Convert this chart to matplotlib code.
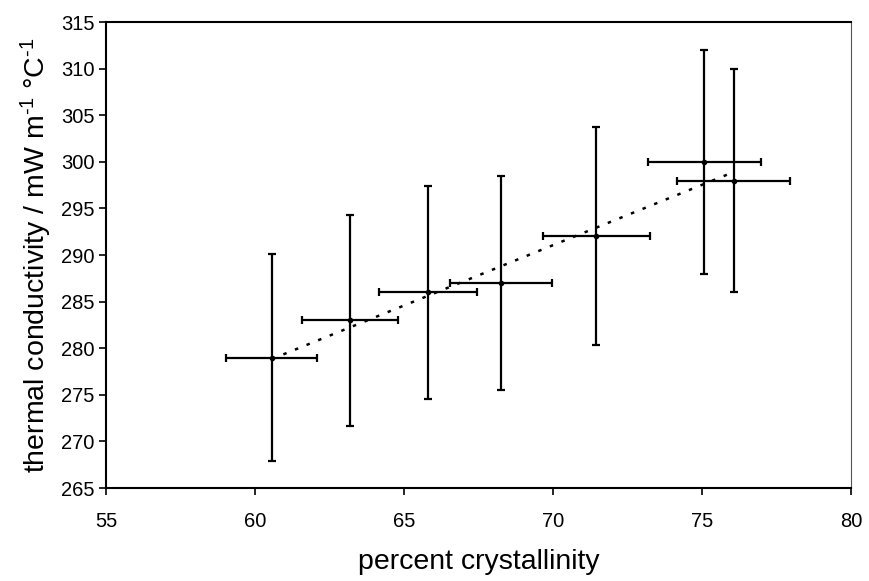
import numpy as np
import matplotlib
matplotlib.use("Agg")
import matplotlib.pyplot as plt

plt.rcParams['font.family'] = ['Liberation Sans', 'DejaVu Sans']
plt.rcParams['mathtext.fontset'] = 'custom'
plt.rcParams['mathtext.rm'] = 'Liberation Sans'
plt.rcParams['mathtext.default'] = 'regular'

# данные
crystallinity = np.array([60.56, 63.19, 65.8, 68.25, 71.46, 75.08, 76.07])
conductivity = np.array([279.0, 283.0, 286.0, 287.0, 292.0, 300.0, 298.0])
x_err = np.array([1.53, 1.6, 1.65, 1.72, 1.79, 1.9, 1.9])
y_err = np.array([11.1, 11.3, 11.4, 11.5, 11.7, 12.0, 12.0])

x_ticks = [55, 60, 65, 70, 75, 80]
y_ticks = list(range(265, 320, 5))

fig = plt.figure(figsize=(8.7, 5.81), dpi=100)
ax = fig.add_axes([0.122, 0.160, 0.856, 0.802])

ax.errorbar(crystallinity, conductivity, xerr=x_err, yerr=y_err, fmt='o',
            color='black', ms=3, elinewidth=1.6, capsize=3, capthick=1.6)

# линейный тренд
k, b = np.polyfit(crystallinity, conductivity, 1)
xs = np.array([crystallinity.min(), crystallinity.max()])
ax.plot(xs, k * xs + b, color='black', lw=1.8, linestyle=(0, (1.4, 3.6)))

ax.set_xlim(55, 80)
ax.set_ylim(265, 315)
ax.set_xticks(x_ticks)
ax.set_yticks(y_ticks)
ax.tick_params(direction='out', length=5, width=1.2, labelsize=14.5, colors='black')
ax.tick_params(axis='x', pad=12)
for s in ['left', 'bottom', 'top']:
    ax.spines[s].set_linewidth(1.5)
ax.spines['right'].set_linewidth(0.8)
ax.spines['right'].set_color('#555555')

ax.set_xlabel('percent crystallinity', fontsize=20.5, labelpad=13)
ax.set_ylabel(r'thermal conductivity / mW m$^{\text{-}1}$ °C$^{\text{-}1}$',
              fontsize=20.5, labelpad=5)

fig.savefig('out.png', dpi=100)
